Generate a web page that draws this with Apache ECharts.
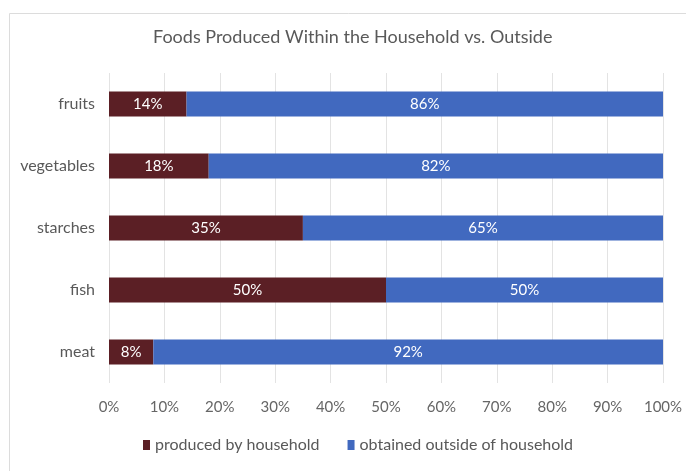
<!DOCTYPE html>
<html>
<head>
<meta charset="utf-8">
<script src="https://cdn.jsdelivr.net/npm/echarts@6/dist/echarts.min.js"></script>
<style>
  html, body { margin: 0; padding: 0; background: #fff; }
  #chart { width: 686px; height: 471px; }
</style>
</head>
<body>
<div id="chart"></div>
<script>
// Food categories, listed bottom to top on the category axis
const categories = ['meat', 'fish', 'starches', 'vegetables', 'fruits'];
// Share of each food produced by the household (%)
const producedByHousehold = [8, 50, 35, 18, 14];
// Share of each food obtained outside the household (%)
const obtainedOutside = [92, 50, 65, 82, 86];
// Value axis ticks (%)
const tickValues = [0, 10, 20, 30, 40, 50, 60, 70, 80, 90, 100];

const FONT = 'Lato, "Open Sans", sans-serif';

const chart = echarts.init(document.getElementById('chart'), null, { renderer: 'canvas' });

const labelStyle = {
  show: true,
  position: 'inside',
  color: '#ffffff',
  fontFamily: FONT,
  fontSize: 15,
  formatter: p => p.value + '%'
};

chart.setOption({
  backgroundColor: '#ffffff',
  animation: false,
  graphic: [{
    type: 'rect',
    shape: { x: 9.5, y: 13.5, width: 690, height: 470 },
    style: { fill: 'none', stroke: '#dcdcdc', lineWidth: 1 },
    z: -1
  }],
  title: {
    text: 'Foods Produced Within the Household vs. Outside',
    left: 153,
    top: 28,
    padding: 0,
    textStyle: { fontFamily: FONT, fontSize: 18, fontWeight: 'normal', color: '#595959' }
  },
  legend: {
    bottom: 13,
    left: 138,
    itemWidth: 7,
    itemHeight: 10,
    itemGap: 28,
    icon: 'rect',
    textStyle: { fontFamily: FONT, fontSize: 16, color: '#595959' },
    data: ['produced by household', 'obtained outside of household']
  },
  grid: { left: 109, right: 23, top: 73, bottom: 88 },
  xAxis: {
    type: 'value',
    min: tickValues[0],
    max: tickValues[tickValues.length - 1],
    interval: tickValues[1] - tickValues[0],
    axisLine: { show: false },
    axisTick: { show: false },
    splitLine: { show: true, lineStyle: { color: '#e3e3e3', width: 1 } },
    axisLabel: {
      margin: 17,
      fontFamily: FONT,
      fontSize: 15,
      color: '#666666',
      formatter: v => v + '%'
    }
  },
  yAxis: {
    type: 'category',
    data: categories,
    axisLine: { show: false },
    axisTick: { show: false },
    axisLabel: { margin: 14, fontFamily: FONT, fontSize: 16, color: '#595959' }
  },
  series: [
    {
      name: 'produced by household',
      type: 'bar',
      stack: 'total',
      barWidth: 25,
      itemStyle: { color: '#5b1f25' },
      label: labelStyle,
      data: producedByHousehold
    },
    {
      name: 'obtained outside of household',
      type: 'bar',
      stack: 'total',
      barWidth: 25,
      itemStyle: { color: '#4169bf' },
      label: labelStyle,
      data: obtainedOutside
    }
  ]
});
</script>
</body>
</html>
